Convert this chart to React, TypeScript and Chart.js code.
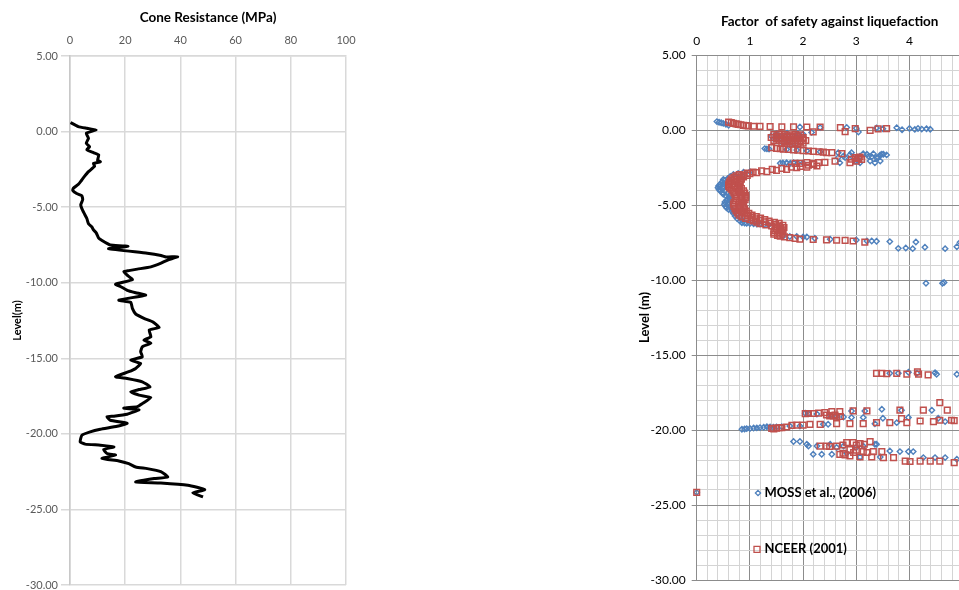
import React, { useEffect, useRef } from "react";
import { Chart, registerables } from "chart.js";

Chart.register(...registerables);

const FONT = "Lato, 'Noto Sans', sans-serif";

// ---------- Left chart: cone resistance profile ----------
const coneTitle = "Cone Resistance (MPa)";
const coneAxisTitle = "Level(m)";
const coneXMin = 0;
const coneXMax = 100;
const coneXStep = 20;
const levelMin = -30;
const levelMax = 5;
const levelStep = 5;

// [cone resistance (MPa), level (m)]
const coneUpper: [number, number][] = [
  [0.2, 0.6], [3, 0.33], [6.1, 0.22], [9.5, 0.11], [5.9, -0.11], [6.7, -0.44], [5.9, -0.77],
  [7.1, -1.0], [6.1, -1.2], [8.5, -1.4], [10.4, -1.55], [10, -1.9], [11, -2.0], [8.5, -2.1],
  [8.9, -2.3], [6.7, -2.65], [5.1, -3.0], [3.9, -3.3], [3.0, -3.5], [1.2, -3.75], [1.0, -3.9],
  [2.4, -4.1], [4.3, -4.25], [4.6, -4.5], [3.9, -4.85], [4.3, -5.1], [5.1, -5.4], [6.1, -5.75],
  [6.7, -6.1], [7.9, -6.3], [8.5, -6.5], [9.5, -6.7], [10.4, -7.05], [11.6, -7.2], [13.4, -7.4],
  [14.6, -7.5], [21, -7.6], [14, -7.75], [28, -8.05], [33, -8.2], [34.8, -8.3], [39, -8.28],
  [35.4, -8.5], [33, -8.7], [29.3, -8.95], [24.4, -9.1], [21.3, -9.2], [19.5, -9.27], [20.7, -9.5],
  [22.6, -9.8], [16.5, -10.1], [18.3, -10.25], [20.7, -10.5], [23.8, -10.66], [27.4, -10.82],
];
const coneMiddle: [number, number][] = [
  [17.7, -11.15], [22, -11.3], [22.6, -11.7], [23.8, -12.07], [26.8, -12.36], [29.9, -12.58],
  [32.3, -12.96], [28.7, -13.13], [29.3, -13.58], [26.8, -13.8], [29.3, -14.0], [26.2, -14.24],
  [25.6, -14.57], [26.2, -14.9], [22, -15.12], [25.6, -15.35], [23.8, -15.67], [21.3, -15.89],
  [16.5, -16.22], [20.7, -16.34], [26.2, -16.56], [29, -16.89], [25, -17.07], [22, -17.22],
  [25, -17.44], [29.3, -17.6], [26.2, -18.0], [24.4, -18.2], [19.5, -18.3], [25, -18.4],
  [20.7, -18.7], [15.9, -18.83], [13.4, -18.87], [14.6, -19.1], [20.7, -19.3], [17.1, -19.5],
];
const coneLower: [number, number][] = [
  [11, -19.7], [7.3, -19.87], [4.3, -20.09], [3.7, -20.53], [5.5, -20.68], [11, -20.75],
  [15.9, -20.86], [12.2, -21.04], [13.4, -21.3], [16.5, -21.4], [11.6, -21.63], [17.7, -21.79],
  [21.3, -21.97], [23.8, -22.19], [28, -22.3], [32.9, -22.5], [35.4, -22.85], [30.5, -22.96],
  [23.8, -23.18], [32.9, -23.25], [42.7, -23.4], [48.8, -23.69], [44.5, -23.91], [48.2, -24.17],
];

// ---------- Right chart: factor of safety ----------
const fsTitle = "Factor  of safety against liquefaction";
const fsAxisTitle = "Level (m)";
const fsXMin = 0;
const fsXMax = 5;
const fsMinorStep = 0.2;
const levelMinorStep = 1;
const mossLabel = "MOSS et al., (2006)";
const nceerLabel = "NCEER (2001)";

// [factor of safety, level (m)]
const mossUpper: [number, number][] = [
  [0.38, 0.56], [0.42, 0.52], [0.46, 0.48], [0.5, 0.44], [0.55, 0.38], [0.6, 0.32],
  [1.94, 0.2], [2.16, -0.16], [2.32, 0.16], [2.82, 0.17], [3.0, 0.12], [3.04, -0.13], [3.38, 0.14],
  [3.5, 0.08], [3.76, 0.15], [3.86, 0.02], [4.0, 0.1], [4.1, 0.04], [4.16, 0.1], [4.23, 0.06],
  [4.32, 0.08], [4.39, 0.05],
  [1.5, -0.25], [1.7, -0.22], [1.9, -0.25], [2.0, -0.28], [1.4, -0.4], [1.6, -0.42], [1.85, -0.38],
  [1.45, -0.6], [1.55, -0.62], [1.65, -0.58], [1.75, -0.64], [1.6, -0.8], [1.7, -0.78], [1.95, -0.82],
  [1.75, -1.0], [1.85, -0.98],
  [1.28, -1.24], [1.32, -1.26], [1.36, -1.27], [1.69, -1.3], [1.88, -1.34], [2.07, -1.38], [2.32, -1.45],
  [2.66, -1.52], [2.76, -1.73], [2.88, -1.65], [3.07, -1.75], [3.13, -1.58], [3.2, -1.62], [3.23, -1.75],
  [3.29, -1.78], [3.32, -1.58], [3.38, -1.84], [3.41, -1.84], [3.45, -1.66], [3.48, -1.62], [3.51, -1.62],
  [3.57, -1.66], [3.45, -2.07], [3.35, -2.18], [3.26, -2.07], [3.07, -2.18], [2.98, -2.07], [2.69, -2.18],
  [2.66, -1.84], [2.79, -1.84], [2.91, -1.51], [2.94, -1.84],
  [1.57, -2.22], [1.62, -2.2], [1.69, -2.18], [1.76, -2.22], [1.82, -2.18], [1.9, -2.22], [2.0, -2.2],
];
const mossCurve: [number, number][] = [
  [1.0, -2.78], [0.88, -2.82], [0.78, -2.9], [0.69, -2.96], [0.63, -3.1], [0.58, -3.25], [0.53, -3.35],
  [0.48, -3.5], [0.44, -3.62], [0.41, -3.73], [0.4, -3.85], [0.42, -3.96], [0.44, -4.06], [0.48, -4.18],
  [0.5, -4.28], [0.55, -4.38], [0.6, -4.5], [0.57, -4.65], [0.53, -4.8], [0.52, -4.95], [0.54, -5.08],
  [0.56, -5.18], [0.6, -5.3], [0.66, -5.4], [0.69, -5.56], [0.72, -5.73], [0.76, -5.9], [0.81, -6.06],
  [0.85, -6.18], [0.9, -6.2], [0.94, -6.22], [1.0, -6.24], [1.07, -6.25], [1.13, -6.27], [1.19, -6.27],
  [1.27, -6.3], [1.35, -6.33],
  [0.5, -3.3], [0.48, -3.45], [0.5, -3.6], [0.5, -3.75], [0.5, -3.9], [0.54, -4.05], [0.58, -4.2],
  [0.62, -4.35], [0.66, -4.5], [0.62, -4.65], [0.6, -4.8], [0.6, -4.95], [0.62, -5.1], [0.65, -5.25],
  [0.7, -5.4], [0.75, -5.6], [0.8, -5.8], [0.86, -6.0],
  [1.63, -7.07], [1.75, -7.1], [1.88, -7.1], [2.0, -7.13], [2.07, -7.13], [2.22, -7.22], [2.51, -7.28],
  [3.0, -7.33], [3.2, -7.4], [3.29, -7.4], [3.38, -7.42], [3.63, -7.44], [3.79, -7.89], [3.93, -7.87],
  [4.06, -7.91], [4.12, -7.47], [4.29, -7.82], [4.67, -7.91], [4.89, -7.78], [4.95, -7.49],
  [4.31, -10.22], [4.62, -10.22], [4.65, -10.17],
];
const mossLower: [number, number][] = [
  [3.63, -16.22], [3.79, -16.22], [3.98, -16.15], [4.14, -16.22], [4.48, -16.18], [4.51, -16.28], [4.89, -16.28],
  [2.04, -18.88], [2.1, -18.91], [2.26, -18.93], [2.51, -19.04], [2.63, -19.1], [2.76, -19.13], [2.91, -18.73],
  [2.91, -19.17], [3.16, -18.73], [3.48, -18.62], [3.85, -18.68], [4.42, -18.68], [3.13, -19.17], [3.5, -19.22],
  [3.98, -19.17], [4.54, -19.22], [4.67, -19.44],
  [0.85, -19.95], [0.9, -19.93], [0.94, -19.91], [1.0, -19.9], [1.07, -19.87], [1.13, -19.86], [1.19, -19.84],
  [1.26, -19.82], [1.32, -19.78], [1.38, -19.8], [1.44, -19.82], [1.5, -19.8], [1.6, -19.78], [1.75, -19.73],
  [1.94, -19.73], [2.38, -19.62], [2.47, -19.62], [3.35, -19.58], [3.76, -19.51],
  [1.82, -20.77], [1.94, -20.77], [2.07, -20.95], [2.1, -21.07], [2.26, -21.07], [2.51, -20.95], [2.63, -21.17],
  [2.76, -21.07], [3.0, -21.17], [3.13, -21.07], [3.35, -20.95], [3.38, -20.95], [3.63, -21.4], [3.82, -21.44],
  [3.98, -21.44], [4.07, -21.44], [4.26, -21.84], [4.48, -21.84], [4.67, -21.84], [4.89, -21.95],
  [2.19, -21.62], [2.35, -21.62], [2.54, -21.62], [2.82, -21.55], [3.07, -21.8], [3.45, -21.8],
  [0, -24.16],
];

const nceerUpper: [number, number][] = [
  [0.6, 0.53], [0.65, 0.49], [0.69, 0.44], [0.74, 0.41], [0.78, 0.38], [0.83, 0.35], [0.88, 0.31],
  [0.93, 0.29], [0.97, 0.27], [1.07, 0.25], [1.19, 0.24], [1.38, 0.22], [1.6, 0.21], [1.82, 0.21],
  [2.07, 0.2], [2.19, -0.13], [2.32, 0.2], [2.7, 0.16], [2.79, -0.11], [2.98, 0.09], [3.26, -0.02],
  [3.41, 0.07], [3.57, 0.09],
  [1.45, -0.3], [1.55, -0.28], [1.65, -0.3], [1.75, -0.32], [1.85, -0.3], [1.95, -0.32], [1.4, -0.5],
  [1.5, -0.5], [1.6, -0.52], [1.7, -0.5], [1.8, -0.5], [1.9, -0.52], [2.0, -0.5], [1.45, -0.7],
  [1.55, -0.7], [1.65, -0.72], [1.75, -0.7], [1.85, -0.7], [1.95, -0.72], [2.05, -0.7], [1.6, -0.9],
  [1.7, -0.9], [1.8, -0.92], [1.9, -0.9], [2.0, -0.88],
  [1.5, -0.4], [1.6, -0.4], [1.7, -0.42], [1.8, -0.4], [1.9, -0.4], [1.5, -0.6], [1.6, -0.6],
  [1.7, -0.62], [1.8, -0.6], [1.9, -0.6], [2.0, -0.6], [1.65, -0.8], [1.75, -0.8], [1.85, -0.82],
  [1.95, -0.8],
  [1.41, -1.18], [1.5, -1.22], [1.57, -1.25], [1.63, -1.28], [1.72, -1.3], [1.82, -1.32], [1.9, -1.34],
  [2.0, -1.38], [2.1, -1.4], [2.19, -1.42], [2.3, -1.45], [2.38, -1.47], [2.44, -1.51], [2.54, -1.51],
  [2.73, -1.58], [2.98, -1.84], [3.0, -2.07], [2.91, -1.95], [3.04, -1.9], [3.07, -1.8], [3.1, -1.96],
  [2.88, -2.18], [2.6, -2.07],
  [1.85, -2.22], [1.94, -2.22], [2.07, -2.18], [2.19, -2.22], [2.29, -2.18], [2.41, -2.16], [2.26, -2.4],
  [2.07, -2.47], [1.88, -2.51], [1.69, -2.62], [1.5, -2.69], [1.32, -2.78], [1.13, -2.84], [1.0, -2.91],
  [0.88, -3.0],
  [2.2, -2.3], [2.1, -2.35], [1.95, -2.42], [1.78, -2.48], [1.6, -2.56], [1.42, -2.63], [1.22, -2.72],
  [1.06, -2.8], [0.95, -2.88],
];
const nceerCurve: [number, number][] = [
  [0.8, -2.98], [0.74, -3.06], [0.7, -3.15], [0.66, -3.25], [0.64, -3.35], [0.62, -3.45], [0.61, -3.55],
  [0.6, -3.65], [0.6, -3.75], [0.62, -3.85], [0.65, -3.95], [0.68, -4.08], [0.7, -4.2], [0.72, -4.32],
  [0.74, -4.45], [0.75, -4.58], [0.73, -4.7], [0.7, -4.82], [0.69, -4.95], [0.7, -5.1], [0.72, -5.25],
  [0.74, -5.4], [0.77, -5.55], [0.8, -5.68], [0.85, -5.8], [0.92, -5.9], [1.0, -5.98], [1.07, -6.06],
  [1.13, -6.15], [1.19, -6.25], [1.3, -6.32], [1.41, -6.4], [1.5, -6.48], [1.5, -6.58], [1.47, -6.7],
  [1.45, -6.82], [1.45, -6.95], [1.52, -7.03], [1.57, -7.07], [1.65, -7.12], [1.75, -7.18], [1.85, -7.22],
  [1.94, -7.27], [2.19, -7.3], [2.44, -7.33], [2.63, -7.35], [2.79, -7.36], [2.94, -7.4], [3.16, -7.47],
  [0.88, -3.05], [0.8, -3.15], [0.76, -3.3], [0.74, -3.45], [0.72, -3.6], [0.72, -3.75], [0.76, -3.9],
  [0.8, -4.05], [0.82, -4.2], [0.84, -4.35], [0.85, -4.5], [0.84, -4.65], [0.8, -4.8], [0.79, -4.95],
  [0.8, -5.1], [0.82, -5.25], [0.85, -5.4], [0.9, -5.55], [0.96, -5.7], [1.04, -5.82], [1.12, -5.92],
  [1.2, -6.02], [1.28, -6.12], [1.38, -6.2], [1.48, -6.3], [1.55, -6.4], [1.58, -6.55], [1.56, -6.7],
  [1.55, -6.85],
  [0.95, -3.02], [0.88, -3.12], [0.84, -3.28], [0.82, -3.45], [0.8, -3.6], [0.8, -3.75], [0.84, -3.9],
  [0.88, -4.05], [0.9, -4.2], [0.92, -4.35], [0.92, -4.5], [0.91, -4.65], [0.88, -4.8], [0.87, -4.95],
  [0.88, -5.1], [0.9, -5.25], [0.93, -5.4], [0.98, -5.55], [1.04, -5.68], [1.12, -5.78], [1.2, -5.88],
  [1.28, -5.98], [1.36, -6.08], [1.46, -6.15], [1.55, -6.22], [1.62, -6.35], [1.64, -6.5], [1.62, -6.65],
  [1.62, -6.8], [1.6, -6.95],
];
const nceerLower: [number, number][] = [
  [3.38, -16.22], [3.48, -16.22], [3.57, -16.24], [3.76, -16.22], [3.95, -16.28], [4.15, -16.12],
  [4.17, -16.28], [4.35, -16.33],
  [4.57, -18.17], [4.71, -18.68], [4.26, -18.68], [3.82, -18.68], [3.2, -18.73], [2.94, -18.73],
  [2.69, -18.77], [2.54, -18.77], [2.41, -18.84], [2.29, -18.88], [2.19, -18.9], [2.1, -18.9],
  [2.04, -18.91], [2.44, -19.0], [2.5, -19.06], [2.6, -19.0], [2.57, -19.06], [2.63, -19.15],
  [2.7, -19.1], [3.63, -19.51], [3.85, -19.24], [3.95, -19.51], [4.2, -19.4], [4.45, -19.44],
  [4.57, -19.35], [4.79, -19.35], [4.84, -19.38],
  [1.41, -19.89], [1.45, -19.92], [1.5, -19.87], [1.55, -19.85], [1.6, -19.84], [1.69, -19.8],
  [1.79, -19.69], [1.88, -19.67], [2.0, -19.67], [2.13, -19.62], [2.32, -19.62], [2.63, -19.58],
  [2.88, -19.58], [3.13, -19.58], [3.38, -19.51],
  [2.32, -21.07], [2.44, -21.07], [2.5, -21.1], [2.63, -21.07], [2.75, -21.0], [2.82, -20.84],
  [2.94, -20.84], [3.0, -21.0], [3.07, -20.9], [3.15, -20.95], [3.26, -20.77], [2.88, -21.3],
  [3.0, -21.35], [3.13, -21.44], [3.32, -21.44], [3.48, -21.44], [2.69, -21.62], [2.75, -21.55],
  [2.79, -21.66], [2.88, -21.73], [2.95, -21.5], [3.07, -21.8], [3.2, -21.5], [3.29, -21.8],
  [3.51, -21.84], [3.7, -21.84], [3.92, -22.07], [4.01, -22.1], [4.2, -22.07], [4.39, -22.07],
  [4.57, -22.07], [4.84, -22.18],
  [0, -24.16],
];

const toXY = (arr: [number, number][]) => arr.map(([x, y]) => ({ x, y }));
const near = (a: number, b: number) => Math.abs(a - b) < 1e-6;

const titlePlugin = {
  id: "chartTitle",
  afterDraw(chart: any, _args: any, opts: any) {
    const { ctx, chartArea } = chart;
    ctx.save();
    ctx.font = `bold ${opts.size}px ${FONT}`;
    ctx.fillStyle = "#000";
    ctx.textAlign = "center";
    ctx.textBaseline = "middle";
    ctx.fillText(opts.text, (chartArea.left + chartArea.right) / 2, opts.y);
    ctx.restore();
  },
};

const insideLegendPlugin = {
  id: "insideLegend",
  afterDraw(chart: any, _args: any, opts: any) {
    const { ctx } = chart;
    ctx.save();
    ctx.font = `bold ${opts.size}px ${FONT}`;
    ctx.fillStyle = "#000";
    ctx.textAlign = "left";
    ctx.textBaseline = "middle";
    for (const item of opts.items) {
      ctx.strokeStyle = item.color;
      ctx.lineWidth = 1.3;
      ctx.beginPath();
      if (item.shape === "diamond") {
        const r = 2.6;
        ctx.moveTo(item.mx, item.y - r);
        ctx.lineTo(item.mx + r, item.y);
        ctx.lineTo(item.mx, item.y + r);
        ctx.lineTo(item.mx - r, item.y);
        ctx.closePath();
      } else {
        const s = 3;
        ctx.rect(item.mx - s, item.y - s, 2 * s, 2 * s);
      }
      ctx.stroke();
      ctx.fillText(item.text, item.tx, item.y);
    }
    ctx.restore();
  },
};

function ConeChart() {
  const ref = useRef<HTMLCanvasElement>(null);
  useEffect(() => {
    const chart = new Chart(ref.current as HTMLCanvasElement, {
      type: "scatter",
      data: {
        datasets: [
          {
            data: toXY([...coneUpper, ...coneMiddle, ...coneLower]),
            showLine: true,
            borderColor: "#000",
            borderWidth: 3,
            pointRadius: 0,
            tension: 0.15,
            borderJoinStyle: "round",
          } as any,
        ],
      },
      plugins: [titlePlugin],
      options: {
        responsive: false,
        animation: false,
        layout: { padding: { left: 0, top: 0, right: 34, bottom: 15 } },
        plugins: {
          legend: { display: false },
          tooltip: { enabled: false },
          chartTitle: { text: coneTitle, size: 13.5, y: 17.5 },
        } as any,
        scales: {
          x: {
            type: "linear",
            position: "top",
            min: coneXMin,
            max: coneXMax,
            ticks: {
              stepSize: coneXStep,
              color: "#595959",
              font: { family: FONT, size: 11 },
              padding: 9,
              maxRotation: 0,
            },
            grid: { color: "#d9d9d9", lineWidth: 1.5, drawTicks: false },
            border: { color: "#d9d9d9", width: 1.5 },
            afterFit: (s: any) => {
              s.height = 56;
            },
          },
          y: {
            type: "linear",
            min: levelMin,
            max: levelMax,
            ticks: {
              stepSize: levelStep,
              color: "#595959",
              font: { family: FONT, size: 11 },
              padding: 3,
              callback: (v: any) => Number(v).toFixed(2),
            },
            grid: { color: "#d9d9d9", lineWidth: 1.5, tickLength: 9 },
            border: { color: "#c8c8c8", width: 1.5 },
            title: {
              display: true,
              text: coneAxisTitle,
              color: "#000",
              font: { family: FONT, size: 11, weight: "bold" },
              padding: { top: 11, bottom: 0 },
            },
            afterFit: (s: any) => {
              s.width = 70;
            },
          },
        },
      } as any,
    });
    return () => chart.destroy();
  }, []);
  return (
    <canvas
      ref={ref}
      width={380}
      height={600}
      style={{ position: "absolute", left: 0, top: 0, width: 380, height: 600 }}
    />
  );
}

function FsChart() {
  const ref = useRef<HTMLCanvasElement>(null);
  useEffect(() => {
    const chart = new Chart(ref.current as HTMLCanvasElement, {
      type: "scatter",
      data: {
        datasets: [
          {
            label: nceerLabel,
            data: toXY([...nceerUpper, ...nceerCurve, ...nceerLower]),
            pointStyle: "rect",
            pointRadius: 4,
            borderColor: "#C0504D",
            backgroundColor: "rgba(0,0,0,0)",
            borderWidth: 1.5,
            order: 1,
            clip: false,
          } as any,
          {
            label: mossLabel,
            data: toXY([...mossUpper, ...mossCurve, ...mossLower]),
            pointStyle: "rectRot",
            pointRadius: 2.7,
            borderColor: "#4F81BD",
            backgroundColor: "rgba(0,0,0,0)",
            borderWidth: 1.4,
            order: 2,
            clip: false,
          } as any,
        ],
      },
      plugins: [titlePlugin, insideLegendPlugin],
      options: {
        responsive: false,
        animation: false,
        layout: { padding: { left: 0, top: 0, right: 37.3, bottom: 20 } },
        plugins: {
          legend: { display: false },
          tooltip: { enabled: false },
          chartTitle: { text: fsTitle, size: 13.5, y: 21.7 },
          insideLegend: {
            size: 13,
            items: [
              { text: mossLabel, shape: "diamond", color: "#4F81BD", mx: 158, tx: 164.5, y: 493 },
              { text: nceerLabel, shape: "square", color: "#C0504D", mx: 157, tx: 164.5, y: 549.3 },
            ],
          },
        } as any,
        scales: {
          x: {
            type: "linear",
            position: "top",
            min: fsXMin,
            max: fsXMax,
            ticks: {
              stepSize: fsMinorStep,
              autoSkip: false,
              maxRotation: 0,
              color: "#000",
              font: { family: FONT, size: 12 },
              padding: 7,
              callback: (v: any) => {
                const n = Number(v);
                return near(n, Math.round(n)) && n < fsXMax - 0.5 ? String(Math.round(n)) : "";
              },
            },
            grid: {
              drawTicks: false,
              lineWidth: 1,
              color: (c: any) =>
                c.tick && near(c.tick.value, Math.round(c.tick.value)) ? "#8c8c8c" : "#d4d4d4",
            },
            border: { color: "#8c8c8c", width: 1 },
            afterFit: (s: any) => {
              s.height = 55;
            },
          },
          y: {
            type: "linear",
            min: levelMin,
            max: levelMax,
            ticks: {
              stepSize: levelMinorStep,
              autoSkip: false,
              color: "#000",
              font: { family: FONT, size: 12 },
              padding: 6,
              callback: (v: any) => {
                const n = Number(v);
                return near(n / levelStep, Math.round(n / levelStep)) ? n.toFixed(2) : "";
              },
            },
            grid: {
              tickLength: 5,
              lineWidth: 1,
              color: (c: any) =>
                c.tick && near(c.tick.value / levelStep, Math.round(c.tick.value / levelStep))
                  ? "#8c8c8c"
                  : "#d4d4d4",
              tickColor: (c: any) =>
                c.tick && near(c.tick.value / levelStep, Math.round(c.tick.value / levelStep))
                  ? "#8c8c8c"
                  : "rgba(0,0,0,0)",
            },
            border: { color: "#8c8c8c", width: 1 },
            title: {
              display: true,
              text: fsAxisTitle,
              color: "#000",
              font: { family: FONT, size: 13, weight: "bold" },
              padding: { top: 37, bottom: 0 },
            },
            afterFit: (s: any) => {
              s.width = 96.7;
            },
          },
        },
      } as any,
    });
    return () => chart.destroy();
  }, []);
  return (
    <canvas
      ref={ref}
      width={400}
      height={600}
      style={{ position: "absolute", left: 600, top: 0, width: 400, height: 600 }}
    />
  );
}

export default function App() {
  return (
    <div
      style={{
        position: "fixed",
        left: 0,
        top: 0,
        width: 959,
        height: 590,
        overflow: "hidden",
        background: "#fff",
      }}
    >
      <ConeChart />
      <FsChart />
    </div>
  );
}
